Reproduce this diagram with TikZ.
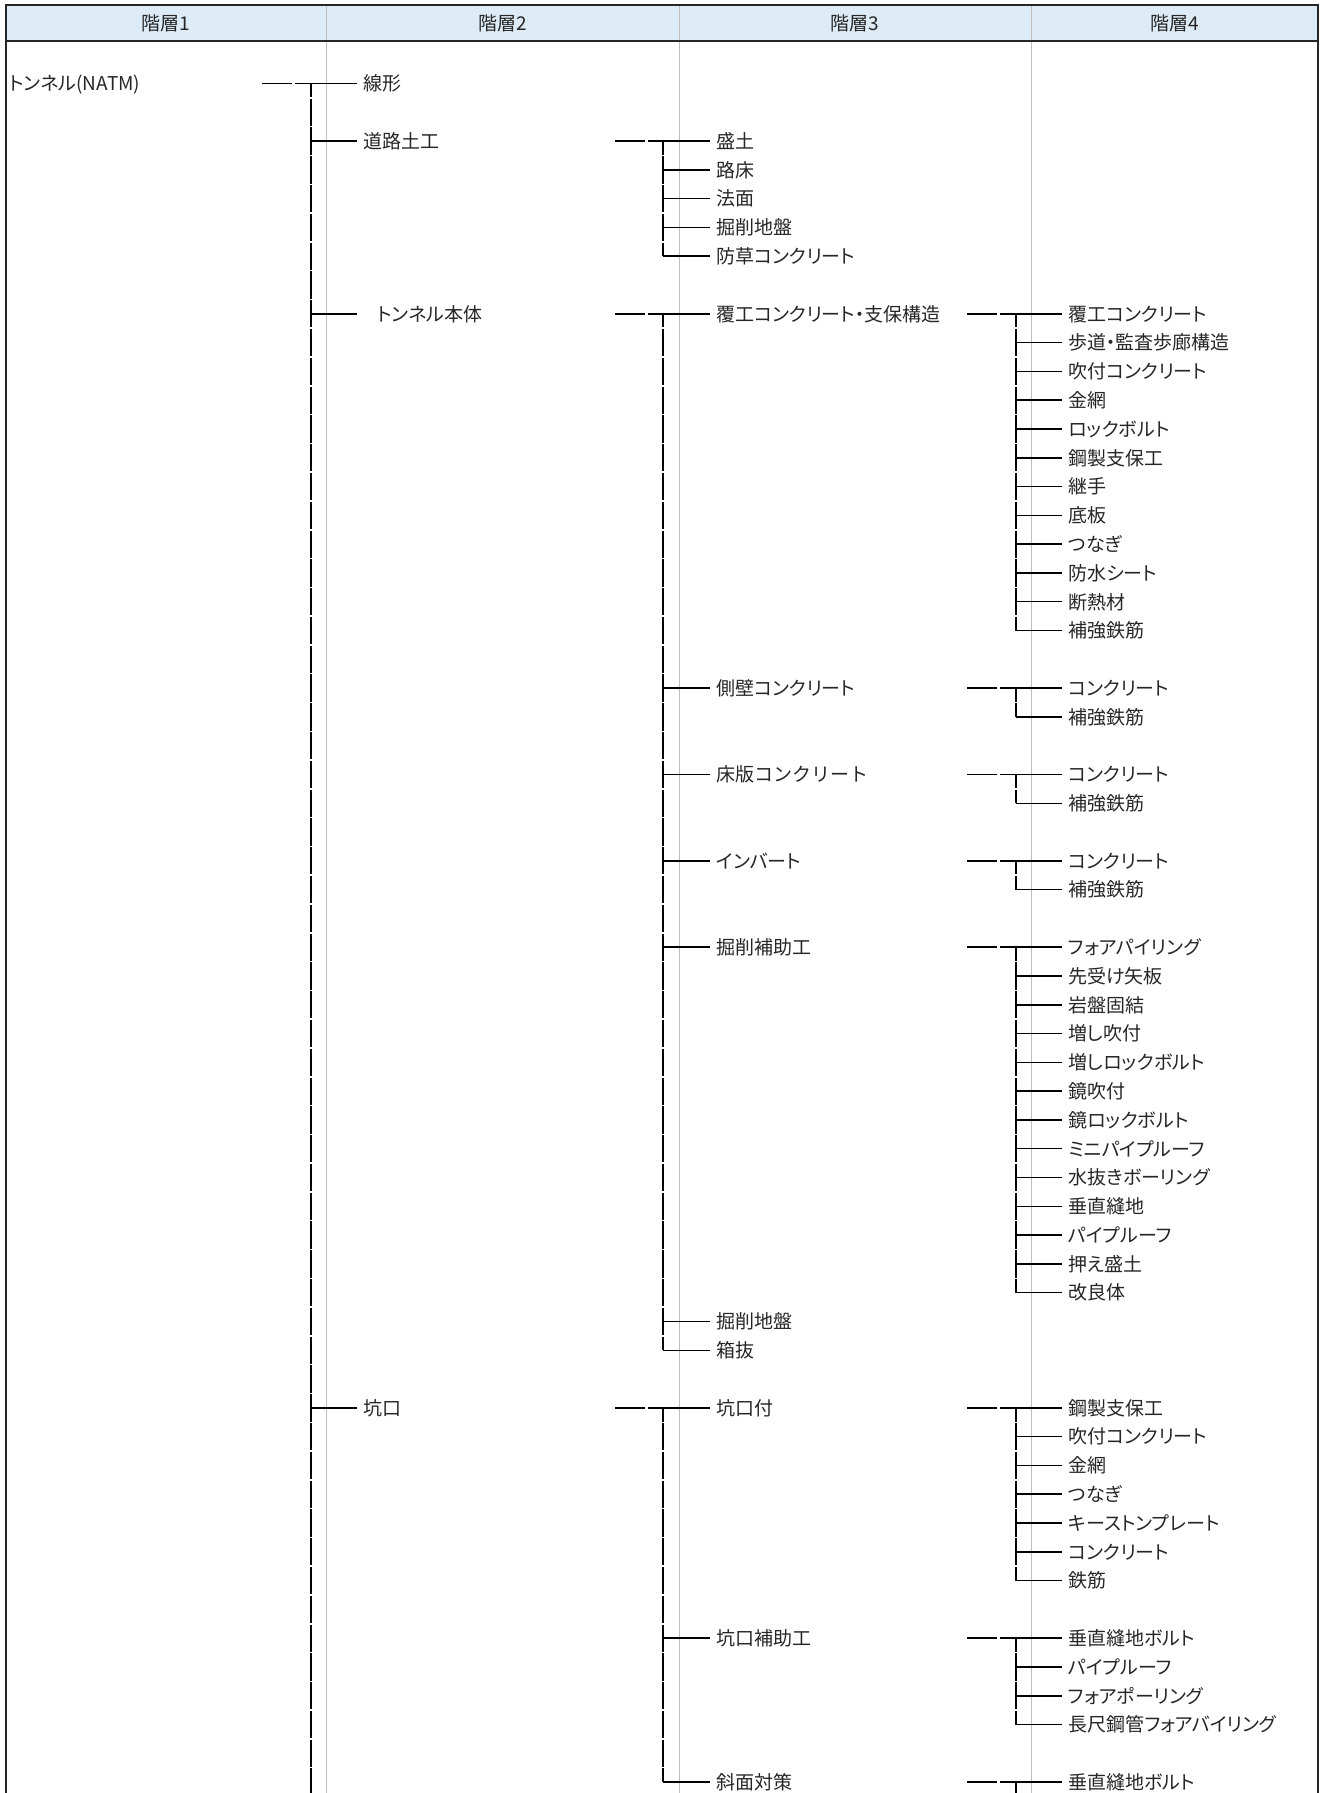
\documentclass[tikz,border=0pt]{standalone}
\usepackage{fontspec}
\setmainfont{Noto Sans CJK JP}[CharacterWidth=AlternateProportional]
\newfontfamily\fullwidth{Noto Sans CJK JP}

\definecolor{headblue}{RGB}{221,235,247}
\definecolor{rulegray}{RGB}{190,190,190}

\def\rowtop{83.5}   % y of the first body row
\def\rowsep{28.79}  % row pitch
\def\ry#1{\rowtop+\rowsep*#1}

% #1 parent, #2 prefix of the children, #3 feeder x, #4 trunk x,
% #5 parent row, #6 last row of the trunk, #7 rows of the other children
\newcommand{\treefork}[7]{%
  \coordinate (#1-f) at (#3,{\ry{#5}});   % feeder starts here
  \coordinate (#1-j) at (#4,{\ry{#5}});   % top of the trunk
  \coordinate (#1-e) at (#4,{\ry{#6}});   % bottom of the trunk
  \draw[feeder] (#1-f) -- (#2#5.west);
  \draw[trunk] (#1-j) -- (#1-e);
  \foreach \rw in {#7}
    \draw[branch] (#1-j |- #2\rw.west) -- (#2\rw.west);
}

\begin{document}
\begin{tikzpicture}[x=0.5pt, y=-0.5pt,
    nodes = {font=\fontsize{9.5pt}{11pt}\selectfont, text=black!85,
             inner ysep=0pt, text height=8.4pt, text depth=1.1pt},
    item/.style = {anchor=west, inner xsep=3pt},
    head/.style = {inner xsep=0pt},
    branch/.style = {line width=0.75pt},
    feeder/.style = {branch, dash pattern=on 15pt off 1.5pt on 60pt off 1pt},
    trunk/.style = {branch, dash pattern=on 13.645pt off 0.75pt, dash phase=6.82pt},
    rule/.style = {rulegray, line width=0.5pt},
    frame/.style = {black!85, line width=1.1pt}]
  \useasboundingbox (0,0) rectangle (1322,1793);

  % header and table lines
  \fill[headblue] (6,5) rectangle (1318,41);
  \foreach \x in {326.7,679,1031.7}
    \draw[rule] (\x,5) -- (\x,1793);
  \draw[frame] (6,1793) -- (6,5) -- (1318,5) -- (1318,1793);
  \draw[frame] (6,41) -- (1318,41);
  \foreach \x/\i in {166/1, 503/2, 855/3, 1175/4}
    \node[head] (h\i) at (\x,23) {階層\i};

  % level 1
  \node[item] (a0) at (3,{\ry{0}}) {トンネル(NATM)};

  % level 2
  \foreach \rw/\txt in {0/線形, 2/道路土工, 8/\hspace*{7pt}トンネル本体, 46/坑口}
    \node[item] (b\rw) at (357,{\ry{\rw}}) {\txt};

  % level 3
  \foreach \rw/\txt in {2/盛土, 3/路床, 4/法面, 5/掘削地盤, 6/防草コンクリート,
      8/覆工コンクリート・支保構造, 21/側壁コンクリート, 24/{\fullwidth 床版コンクリート},
      27/インバート, 30/掘削補助工, 43/掘削地盤, 44/箱抜,
      46/坑口付, 54/坑口補助工, 59/斜面対策}
    \node[item] (c\rw) at (710,{\ry{\rw}}) {\txt};

  % level 4
  \foreach \rw/\txt in {8/覆工コンクリート, 9/歩道・監査歩廊構造, 10/吹付コンクリート,
      11/金網, 12/ロックボルト, 13/鋼製支保工, 14/継手, 15/底板, 16/つなぎ,
      17/防水シート, 18/断熱材, 19/補強鉄筋,
      21/コンクリート, 22/補強鉄筋, 24/コンクリート, 25/補強鉄筋,
      27/コンクリート, 28/補強鉄筋,
      30/フォアパイリング, 31/先受け矢板, 32/岩盤固結, 33/増し吹付,
      34/増しロックボルト, 35/鏡吹付, 36/鏡ロックボルト, 37/ミニパイプルーフ,
      38/水抜きボーリング, 39/垂直縫地, 40/パイプルーフ, 41/押え盛土, 42/改良体,
      46/鋼製支保工, 47/吹付コンクリート, 48/金網, 49/つなぎ,
      50/キーストンプレート, 51/コンクリート, 52/鉄筋,
      54/垂直縫地ボルト, 55/パイプルーフ, 56/フォアポーリング,
      57/長尺鋼管フォアバイリング, 59/垂直縫地ボルト}
    \node[item] (d\rw) at (1062,{\ry{\rw}}) {\txt};

  % connectors
  \treefork{a0}{b}{262}{311}{0}{59.6}{2,8,46}
  \treefork{b2}{c}{615}{663}{2}{6}{3,...,6}
  \treefork{b8}{c}{615}{663}{8}{44}{21,24,27,30,43,44}
  \treefork{b46}{c}{615}{663}{46}{59}{54,59}
  \treefork{c8}{d}{967}{1016}{8}{19}{9,...,19}
  \treefork{c21}{d}{967}{1016}{21}{22}{22}
  \treefork{c24}{d}{967}{1016}{24}{25}{25}
  \treefork{c27}{d}{967}{1016}{27}{28}{28}
  \treefork{c30}{d}{967}{1016}{30}{42}{31,...,42}
  \treefork{c46}{d}{967}{1016}{46}{52}{47,...,52}
  \treefork{c54}{d}{967}{1016}{54}{57}{55,...,57}
  \treefork{c59}{d}{967}{1016}{59}{59.6}{59}
\end{tikzpicture}
\end{document}
